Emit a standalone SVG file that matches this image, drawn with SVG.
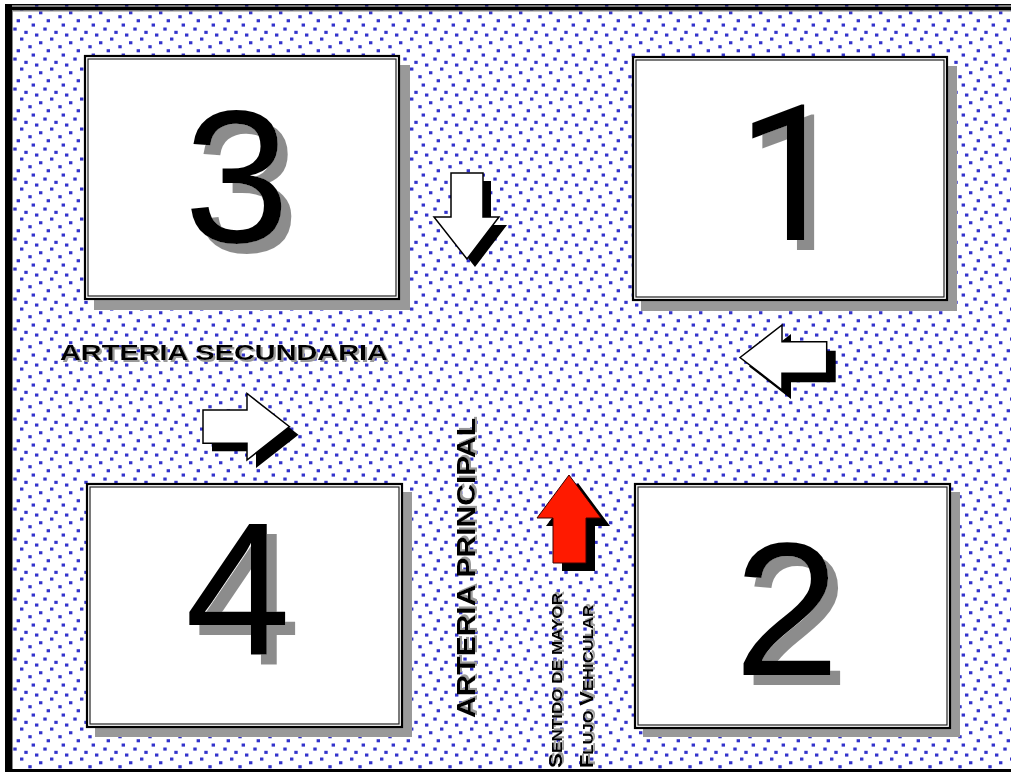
<svg xmlns="http://www.w3.org/2000/svg" width="1011" height="774" viewBox="0 0 1011 774">
  <defs>
    <pattern id="dots" patternUnits="userSpaceOnUse" x="0" y="0" width="30" height="30">
      <g fill="#3333cc">
        <rect x="9" y="11.2" width="3.4" height="3.1"/>
        <rect x="-1.7" y="15.2" width="3.4" height="3.1"/>
        <rect x="28.3" y="15.2" width="3.4" height="3.1"/>
        <rect x="16.6" y="19.2" width="3.4" height="3.1"/>
        <rect x="1.6" y="23.5" width="3.4" height="3.1"/>
        <rect x="13.3" y="27.5" width="3.4" height="3.1"/>
        <rect x="13.3" y="-2.5" width="3.4" height="3.1"/>
        <rect x="24.3" y="0.8" width="3.4" height="3.1"/>
        <rect x="5" y="3.5" width="3.4" height="3.1"/>
        <rect x="20" y="7.5" width="3.4" height="3.1"/>
      </g>
    </pattern>
    <filter id="numShadow" x="-20%" y="-20%" width="150%" height="150%">
      <feFlood flood-color="#8c8c8c" result="c"/>
      <feComposite in="c" in2="SourceAlpha" operator="in" result="s"/>
      <feOffset in="s" dx="10" dy="10" result="o"/>
      <feMerge><feMergeNode in="o"/><feMergeNode in="SourceGraphic"/></feMerge>
    </filter>
    <filter id="lblShadow" x="-5%" y="-20%" width="110%" height="150%">
      <feFlood flood-color="#9a9a9a" result="c"/>
      <feComposite in="c" in2="SourceAlpha" operator="in" result="s"/>
      <feOffset in="s" dx="1.5" dy="1.5" result="o"/>
      <feMerge><feMergeNode in="o"/><feMergeNode in="SourceGraphic"/></feMerge>
    </filter>
  </defs>
  <style>
    .shadow { fill: #999999; }
    .outer { fill: #ffffff; stroke: #000000; stroke-width: 2.2; }
    .inner { fill: none; stroke: #222222; stroke-width: 1.2; }
    .num { font-family: "Liberation Sans", Arial, sans-serif; font-size: 190px; fill: #000000; filter: url(#numShadow); }
    .one { font-family: Roboto, "Liberation Sans", Arial, sans-serif; }
    .arrow { fill: #ffffff; stroke: #000000; stroke-width: 1.5; stroke-linejoin: miter; }
    .arrowsh { fill: #000000; }
    .lbl { font-family: "Liberation Sans", Arial, sans-serif; font-weight: bold; fill: #000000; filter: url(#lblShadow); }
  </style>

  <rect x="0" y="0" width="1011" height="774" fill="#ffffff"/>
  <rect x="5" y="5" width="1006" height="766" fill="url(#dots)"/>

  <g id="frame">
    <rect x="5" y="4" width="1006" height="1.5" fill="#000"/>
    <rect x="5" y="6.5" width="1006" height="4" fill="#000"/>
    <rect x="12" y="10.5" width="999" height="1" fill="#888"/>
    <rect x="5" y="4" width="7" height="768" fill="#000"/>
    <rect x="12" y="10.5" width="1" height="759" fill="#888"/>
    <rect x="5" y="769" width="1006" height="3" fill="#000"/>
  </g>

  <g id="node3">
    <rect class="shadow" x="94" y="65" width="316" height="245"/>
    <rect class="outer" x="85" y="56" width="314" height="243"/>
    <rect class="inner" x="88" y="59" width="308" height="237"/>
    <text class="num" x="184" y="242">3</text>
  </g>

  <g id="node1">
    <rect class="shadow" x="641" y="66" width="316" height="245"/>
    <rect class="outer" x="633" y="57" width="314" height="243"/>
    <rect class="inner" x="636" y="60" width="308" height="237"/>
    <text class="num one" x="790" y="240" text-anchor="middle">1</text>
  </g>

  <g id="node4">
    <rect class="shadow" x="95" y="492" width="317" height="245"/>
    <rect class="outer" x="87" y="484" width="315" height="243"/>
    <rect class="inner" x="90" y="487" width="309" height="237"/>
    <text class="num" x="185" y="655">4</text>
  </g>

  <g id="node2">
    <rect class="shadow" x="643" y="492" width="317" height="245"/>
    <rect class="outer" x="635" y="484" width="315" height="244"/>
    <rect class="inner" x="638" y="487" width="309" height="238"/>
    <text class="num" x="734" y="675">2</text>
  </g>

  <g id="connectors">
    <g id="arrow-down">
      <path class="arrowsh" transform="translate(8,8)" d="M451,173 L483,173 L483,217 L499,217 L467,259 L434,217 L451,217 Z"/>
      <path class="arrow" d="M451,173 L483,173 L483,217 L499,217 L467,259 L434,217 L451,217 Z"/>
    </g>
    <g id="arrow-left">
      <path class="arrowsh" transform="translate(9,9)" d="M740,357.5 L782,325 L782,341.7 L826.7,341.7 L826.7,373.3 L782,373.3 L782,390 Z"/>
      <path class="arrow" d="M740,357.5 L782,325 L782,341.7 L826.7,341.7 L826.7,373.3 L782,373.3 L782,390 Z"/>
    </g>
    <g id="arrow-right">
      <path class="arrowsh" transform="translate(9,8)" d="M203,410 L247,410 L247,393.5 L289.5,426.7 L247,460 L247,443.3 L203,443.3 Z"/>
      <path class="arrow" d="M203,410 L247,410 L247,393.5 L289.5,426.7 L247,460 L247,443.3 L203,443.3 Z"/>
    </g>
    <g id="arrow-up-red">
      <path class="arrowsh" transform="translate(9,8)" d="M569,475 L601,518 L586,518 L586,563 L553,563 L553,518 L537,518 Z"/>
      <path d="M569,475 L601,518 L586,518 L586,563 L553,563 L553,518 L537,518 Z" fill="#ff1a00" stroke="#3a0000" stroke-width="1"/>
    </g>
  </g>

  <g id="label-secundaria">
    <text class="lbl" x="60" y="360" font-size="21.5" textLength="328" lengthAdjust="spacingAndGlyphs">ARTERIA SECUNDARIA</text>
  </g>

  <g id="label-principal">
    <text class="lbl" transform="translate(475,718) rotate(-90)" x="0" y="0" font-size="25.5" textLength="300" lengthAdjust="spacingAndGlyphs">ARTERIA PRINCIPAL</text>
  </g>

  <g id="label-sentido">
    <text class="lbl" transform="translate(562,768) rotate(-90)" x="0" y="0" textLength="175" lengthAdjust="spacingAndGlyphs"><tspan font-size="19">S</tspan><tspan font-size="14.5">ENTIDO DE MAYOR</tspan></text>
    <text class="lbl" transform="translate(593,768) rotate(-90)" x="0" y="0" textLength="163" lengthAdjust="spacingAndGlyphs"><tspan font-size="19">F</tspan><tspan font-size="14.5">LUJO </tspan><tspan font-size="19">V</tspan><tspan font-size="14.5">EHICULAR</tspan></text>
  </g>
</svg>
